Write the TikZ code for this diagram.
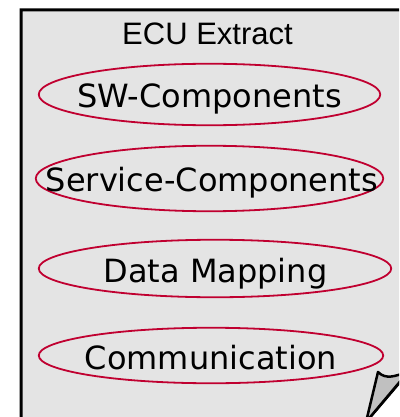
\documentclass[tikz,border=0pt]{standalone}
\usepackage{fontspec}
\setmainfont{Liberation Sans}
\newfontfamily\ellfont{DejaVu Sans}
\usetikzlibrary{shapes.geometric}
\definecolor{pagegray}{RGB}{228,228,228}
\definecolor{flapgray}{RGB}{192,192,192}
\definecolor{ellred}{RGB}{192,0,48}
\begin{document}
\begin{tikzpicture}[x=1pt,y=-1pt,
  usecase/.style={ellipse, draw=ellred, line width=1.8pt, inner sep=0pt},
  usetext/.style={inner sep=0pt, font=\ellfont\fontsize{32}{38}\selectfont, text height=23.3pt, text depth=0pt},
  titletext/.style={inner sep=0pt, font=\fontsize{31}{37}\selectfont, text height=22.2pt, text depth=0pt},
  pageshape/.style={fill=pagegray, draw=black, line width=3pt, line join=miter},
  flapshape/.style={fill=flapgray, draw=black, line width=2.5pt, line join=round}]
\clip (0,0) rectangle (399,417);
\draw[pageshape] (21,10) -- (420,10) -- (420,358.4) -- (350.4,440) -- (21,440) -- cycle;
\draw[flapshape] (366,422) -- (378,372) .. controls (386,380) and (395,376) .. (408,372) -- cycle;
\node[titletext] (title) at (207.5,33.5) {ECU Extract};
\node[usecase, minimum width=341.5pt, minimum height=61.5pt] (e1) at (209.5,94.5) {};
\node[usecase, minimum width=347.5pt, minimum height=65.5pt] (e2) at (209.5,178.5) {};
\node[usecase, minimum width=352.5pt, minimum height=57.5pt] (e3) at (215,268.5) {};
\node[usecase, minimum width=344.5pt, minimum height=55.5pt] (e4) at (211,355.5) {};
\node[usetext] (t1) at (209.5,95.5) {SW-Components};
\node[usetext] (t2) at (212,180) {Service-Components};
\node[usetext] (t3) at (215.5,271) {Data Mapping};
\node[usetext] (t4) at (211,357.5) {Communication};
\end{tikzpicture}
\end{document}
